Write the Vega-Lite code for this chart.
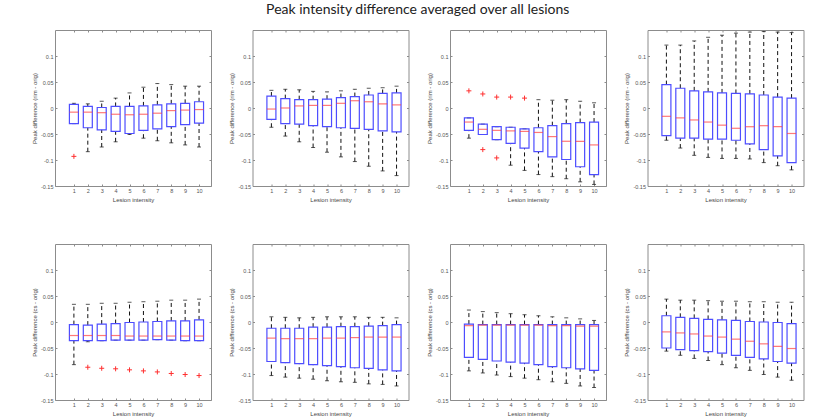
{
  "$schema": "https://vega.github.io/schema/vega-lite/v6.json",
  "title": {
    "text": "Peak intensity difference averaged over all lesions",
    "font": "Lato",
    "fontSize": 14,
    "fontWeight": "normal",
    "color": "#222222",
    "anchor": "middle",
    "offset": 12
  },
  "padding": {"left": 30, "top": 3, "right": 0, "bottom": 5},
  "background": "white",
  "datasets": {
    "stats": [
      {"r": "rim", "c": 1, "x": 1, "lo": -0.030, "q1": -0.030, "m": -0.008, "q3": 0.007, "hi": 0.009},
      {"r": "rim", "c": 1, "x": 2, "lo": -0.084, "q1": -0.038, "m": -0.008, "q3": 0.003, "hi": 0.008},
      {"r": "rim", "c": 1, "x": 3, "lo": -0.075, "q1": -0.042, "m": -0.009, "q3": 0.001, "hi": 0.013},
      {"r": "rim", "c": 1, "x": 4, "lo": -0.065, "q1": -0.045, "m": -0.012, "q3": 0.003, "hi": 0.019},
      {"r": "rim", "c": 1, "x": 5, "lo": -0.051, "q1": -0.049, "m": -0.013, "q3": 0.003, "hi": 0.029},
      {"r": "rim", "c": 1, "x": 6, "lo": -0.058, "q1": -0.043, "m": -0.012, "q3": 0.004, "hi": 0.040},
      {"r": "rim", "c": 1, "x": 7, "lo": -0.063, "q1": -0.040, "m": -0.010, "q3": 0.006, "hi": 0.047},
      {"r": "rim", "c": 1, "x": 8, "lo": -0.067, "q1": -0.036, "m": -0.005, "q3": 0.008, "hi": 0.045},
      {"r": "rim", "c": 1, "x": 9, "lo": -0.071, "q1": -0.032, "m": -0.004, "q3": 0.009, "hi": 0.042},
      {"r": "rim", "c": 1, "x": 10, "lo": -0.075, "q1": -0.029, "m": -0.003, "q3": 0.012, "hi": 0.042},
      {"r": "rim", "c": 1, "x": 1, "o": -0.093},

      {"r": "rim", "c": 2, "x": 1, "lo": -0.037, "q1": -0.022, "m": -0.002, "q3": 0.023, "hi": 0.034},
      {"r": "rim", "c": 2, "x": 2, "lo": -0.054, "q1": -0.030, "m": 0.000, "q3": 0.018, "hi": 0.036},
      {"r": "rim", "c": 2, "x": 3, "lo": -0.065, "q1": -0.031, "m": 0.004, "q3": 0.016, "hi": 0.035},
      {"r": "rim", "c": 2, "x": 4, "lo": -0.076, "q1": -0.034, "m": 0.005, "q3": 0.016, "hi": 0.032},
      {"r": "rim", "c": 2, "x": 5, "lo": -0.085, "q1": -0.036, "m": 0.005, "q3": 0.017, "hi": 0.031},
      {"r": "rim", "c": 2, "x": 6, "lo": -0.094, "q1": -0.038, "m": 0.009, "q3": 0.020, "hi": 0.033},
      {"r": "rim", "c": 2, "x": 7, "lo": -0.103, "q1": -0.039, "m": 0.014, "q3": 0.022, "hi": 0.036},
      {"r": "rim", "c": 2, "x": 8, "lo": -0.112, "q1": -0.041, "m": 0.012, "q3": 0.025, "hi": 0.038},
      {"r": "rim", "c": 2, "x": 9, "lo": -0.121, "q1": -0.044, "m": 0.008, "q3": 0.028, "hi": 0.039},
      {"r": "rim", "c": 2, "x": 10, "lo": -0.130, "q1": -0.046, "m": 0.006, "q3": 0.029, "hi": 0.042},

      {"r": "rim", "c": 3, "x": 1, "lo": -0.058, "q1": -0.043, "m": -0.027, "q3": -0.019, "hi": -0.019},
      {"r": "rim", "c": 3, "x": 2, "lo": -0.051, "q1": -0.051, "m": -0.041, "q3": -0.031, "hi": -0.031},
      {"r": "rim", "c": 3, "x": 3, "lo": -0.061, "q1": -0.061, "m": -0.043, "q3": -0.036, "hi": -0.036},
      {"r": "rim", "c": 3, "x": 4, "lo": -0.110, "q1": -0.068, "m": -0.044, "q3": -0.037, "hi": -0.037},
      {"r": "rim", "c": 3, "x": 5, "lo": -0.120, "q1": -0.077, "m": -0.045, "q3": -0.040, "hi": -0.040},
      {"r": "rim", "c": 3, "x": 6, "lo": -0.128, "q1": -0.084, "m": -0.047, "q3": -0.038, "hi": 0.016},
      {"r": "rim", "c": 3, "x": 7, "lo": -0.132, "q1": -0.094, "m": -0.055, "q3": -0.034, "hi": 0.015},
      {"r": "rim", "c": 3, "x": 8, "lo": -0.136, "q1": -0.099, "m": -0.064, "q3": -0.030, "hi": 0.016},
      {"r": "rim", "c": 3, "x": 9, "lo": -0.142, "q1": -0.113, "m": -0.064, "q3": -0.028, "hi": 0.013},
      {"r": "rim", "c": 3, "x": 10, "lo": -0.147, "q1": -0.128, "m": -0.071, "q3": -0.027, "hi": 0.010},
      {"r": "rim", "c": 3, "x": 1, "o": 0.033},
      {"r": "rim", "c": 3, "x": 2, "o": 0.027},
      {"r": "rim", "c": 3, "x": 2, "o": -0.080},
      {"r": "rim", "c": 3, "x": 3, "o": 0.021},
      {"r": "rim", "c": 3, "x": 3, "o": -0.096},
      {"r": "rim", "c": 3, "x": 4, "o": 0.021},
      {"r": "rim", "c": 3, "x": 5, "o": 0.019},

      {"r": "rim", "c": 4, "x": 1, "lo": -0.062, "q1": -0.053, "m": -0.016, "q3": 0.045, "hi": 0.121},
      {"r": "rim", "c": 4, "x": 2, "lo": -0.077, "q1": -0.058, "m": -0.019, "q3": 0.038, "hi": 0.121},
      {"r": "rim", "c": 4, "x": 3, "lo": -0.091, "q1": -0.058, "m": -0.023, "q3": 0.033, "hi": 0.129},
      {"r": "rim", "c": 4, "x": 4, "lo": -0.095, "q1": -0.060, "m": -0.027, "q3": 0.031, "hi": 0.136},
      {"r": "rim", "c": 4, "x": 5, "lo": -0.097, "q1": -0.060, "m": -0.033, "q3": 0.029, "hi": 0.140},
      {"r": "rim", "c": 4, "x": 6, "lo": -0.097, "q1": -0.062, "m": -0.039, "q3": 0.028, "hi": 0.144},
      {"r": "rim", "c": 4, "x": 7, "lo": -0.098, "q1": -0.069, "m": -0.036, "q3": 0.027, "hi": 0.146},
      {"r": "rim", "c": 4, "x": 8, "lo": -0.105, "q1": -0.080, "m": -0.034, "q3": 0.025, "hi": 0.147},
      {"r": "rim", "c": 4, "x": 9, "lo": -0.111, "q1": -0.092, "m": -0.036, "q3": 0.021, "hi": 0.146},
      {"r": "rim", "c": 4, "x": 10, "lo": -0.119, "q1": -0.105, "m": -0.049, "q3": 0.019, "hi": 0.145},

      {"r": "cs", "c": 1, "x": 1, "lo": -0.082, "q1": -0.036, "m": -0.026, "q3": -0.005, "hi": 0.034},
      {"r": "cs", "c": 1, "x": 2, "lo": -0.038, "q1": -0.036, "m": -0.026, "q3": -0.006, "hi": 0.034},
      {"r": "cs", "c": 1, "x": 3, "lo": -0.036, "q1": -0.036, "m": -0.026, "q3": -0.004, "hi": 0.036},
      {"r": "cs", "c": 1, "x": 4, "lo": -0.035, "q1": -0.035, "m": -0.026, "q3": -0.003, "hi": 0.036},
      {"r": "cs", "c": 1, "x": 5, "lo": -0.035, "q1": -0.035, "m": -0.027, "q3": -0.001, "hi": 0.038},
      {"r": "cs", "c": 1, "x": 6, "lo": -0.035, "q1": -0.035, "m": -0.027, "q3": 0.000, "hi": 0.039},
      {"r": "cs", "c": 1, "x": 7, "lo": -0.034, "q1": -0.034, "m": -0.027, "q3": 0.001, "hi": 0.040},
      {"r": "cs", "c": 1, "x": 8, "lo": -0.035, "q1": -0.035, "m": -0.027, "q3": 0.002, "hi": 0.042},
      {"r": "cs", "c": 1, "x": 9, "lo": -0.036, "q1": -0.036, "m": -0.027, "q3": 0.002, "hi": 0.042},
      {"r": "cs", "c": 1, "x": 10, "lo": -0.036, "q1": -0.036, "m": -0.027, "q3": 0.004, "hi": 0.044},
      {"r": "cs", "c": 1, "x": 2, "o": -0.087},
      {"r": "cs", "c": 1, "x": 3, "o": -0.089},
      {"r": "cs", "c": 1, "x": 4, "o": -0.090},
      {"r": "cs", "c": 1, "x": 5, "o": -0.092},
      {"r": "cs", "c": 1, "x": 6, "o": -0.094},
      {"r": "cs", "c": 1, "x": 7, "o": -0.096},
      {"r": "cs", "c": 1, "x": 8, "o": -0.099},
      {"r": "cs", "c": 1, "x": 9, "o": -0.101},
      {"r": "cs", "c": 1, "x": 10, "o": -0.103},

      {"r": "cs", "c": 2, "x": 1, "lo": -0.103, "q1": -0.076, "m": -0.031, "q3": -0.012, "hi": 0.010},
      {"r": "cs", "c": 2, "x": 2, "lo": -0.106, "q1": -0.078, "m": -0.032, "q3": -0.012, "hi": 0.009},
      {"r": "cs", "c": 2, "x": 3, "lo": -0.108, "q1": -0.080, "m": -0.032, "q3": -0.012, "hi": 0.008},
      {"r": "cs", "c": 2, "x": 4, "lo": -0.110, "q1": -0.082, "m": -0.032, "q3": -0.010, "hi": 0.009},
      {"r": "cs", "c": 2, "x": 5, "lo": -0.113, "q1": -0.084, "m": -0.031, "q3": -0.010, "hi": 0.010},
      {"r": "cs", "c": 2, "x": 6, "lo": -0.115, "q1": -0.086, "m": -0.031, "q3": -0.009, "hi": 0.010},
      {"r": "cs", "c": 2, "x": 7, "lo": -0.116, "q1": -0.088, "m": -0.030, "q3": -0.009, "hi": 0.010},
      {"r": "cs", "c": 2, "x": 8, "lo": -0.119, "q1": -0.089, "m": -0.029, "q3": -0.008, "hi": 0.009},
      {"r": "cs", "c": 2, "x": 9, "lo": -0.120, "q1": -0.092, "m": -0.029, "q3": -0.007, "hi": 0.009},
      {"r": "cs", "c": 2, "x": 10, "lo": -0.123, "q1": -0.094, "m": -0.029, "q3": -0.005, "hi": 0.008},

      {"r": "cs", "c": 3, "x": 1, "lo": -0.094, "q1": -0.068, "m": -0.007, "q3": -0.004, "hi": 0.023},
      {"r": "cs", "c": 3, "x": 2, "lo": -0.098, "q1": -0.072, "m": -0.006, "q3": -0.005, "hi": 0.020},
      {"r": "cs", "c": 3, "x": 3, "lo": -0.102, "q1": -0.075, "m": -0.006, "q3": -0.005, "hi": 0.018},
      {"r": "cs", "c": 3, "x": 4, "lo": -0.105, "q1": -0.077, "m": -0.006, "q3": -0.005, "hi": 0.016},
      {"r": "cs", "c": 3, "x": 5, "lo": -0.108, "q1": -0.079, "m": -0.006, "q3": -0.005, "hi": 0.014},
      {"r": "cs", "c": 3, "x": 6, "lo": -0.111, "q1": -0.082, "m": -0.006, "q3": -0.005, "hi": 0.012},
      {"r": "cs", "c": 3, "x": 7, "lo": -0.115, "q1": -0.086, "m": -0.007, "q3": -0.005, "hi": 0.010},
      {"r": "cs", "c": 3, "x": 8, "lo": -0.118, "q1": -0.088, "m": -0.007, "q3": -0.005, "hi": 0.008},
      {"r": "cs", "c": 3, "x": 9, "lo": -0.123, "q1": -0.090, "m": -0.008, "q3": -0.005, "hi": 0.006},
      {"r": "cs", "c": 3, "x": 10, "lo": -0.126, "q1": -0.093, "m": -0.008, "q3": -0.005, "hi": 0.003},

      {"r": "cs", "c": 4, "x": 1, "lo": -0.056, "q1": -0.050, "m": -0.019, "q3": 0.012, "hi": 0.044},
      {"r": "cs", "c": 4, "x": 2, "lo": -0.064, "q1": -0.053, "m": -0.021, "q3": 0.009, "hi": 0.042},
      {"r": "cs", "c": 4, "x": 3, "lo": -0.070, "q1": -0.055, "m": -0.023, "q3": 0.007, "hi": 0.042},
      {"r": "cs", "c": 4, "x": 4, "lo": -0.074, "q1": -0.057, "m": -0.027, "q3": 0.005, "hi": 0.041},
      {"r": "cs", "c": 4, "x": 5, "lo": -0.082, "q1": -0.060, "m": -0.029, "q3": 0.004, "hi": 0.040},
      {"r": "cs", "c": 4, "x": 6, "lo": -0.088, "q1": -0.064, "m": -0.033, "q3": 0.003, "hi": 0.040},
      {"r": "cs", "c": 4, "x": 7, "lo": -0.093, "q1": -0.068, "m": -0.037, "q3": 0.001, "hi": 0.039},
      {"r": "cs", "c": 4, "x": 8, "lo": -0.101, "q1": -0.071, "m": -0.042, "q3": 0.000, "hi": 0.039},
      {"r": "cs", "c": 4, "x": 9, "lo": -0.106, "q1": -0.076, "m": -0.047, "q3": -0.001, "hi": 0.038},
      {"r": "cs", "c": 4, "x": 10, "lo": -0.112, "q1": -0.079, "m": -0.051, "q3": -0.003, "hi": 0.038}
    ]
  },
  "vconcat": [
    {
      "data": {"name": "stats"},
      "transform": [{"filter": "datum.r == 'rim'"}],
      "facet": {"column": {"field": "c", "type": "ordinal", "header": null}},
      "spacing": 41.5,
      "bounds": "flush",
      "resolve": {"axis": {"x": "independent", "y": "independent"}},
      "spec": {
        "width": 156,
        "height": 156,
        "resolve": {"axis": {"x": "independent", "y": "independent"}},
        "layer": [
          {
            "transform": [{"filter": "isValid(datum.m)"}],
            "mark": {"type": "rule", "color": "#111111", "strokeDash": [4, 3], "strokeWidth": 1},
            "encoding": {
              "x": {"field": "x", "type": "quantitative", "scale": {"domain": [0, 10.5], "nice": false, "zero": false}, "title": "Lesion intensity", "axis": {"values": [1, 2, 3, 4, 5, 6, 7, 8, 9, 10], "format": "d"}},
              "y": {"field": "q3", "type": "quantitative", "scale": {"domain": [-0.15, 0.15], "nice": false, "zero": false}, "title": "Peak difference (rim - orig)", "axis": {"values": [-0.15, -0.1, -0.05, 0, 0.05, 0.1], "labelExpr": "toString(datum.value)"}},
              "y2": {"field": "hi"}
            }
          },
          {
            "transform": [{"filter": "isValid(datum.m)"}],
            "mark": {"type": "rule", "color": "#111111", "strokeDash": [4, 3], "strokeWidth": 1},
            "encoding": {
              "x": {"field": "x", "type": "quantitative", "axis": null},
              "y": {"field": "lo", "type": "quantitative", "axis": null},
              "y2": {"field": "q1"}
            }
          },
          {
            "transform": [{"filter": "isValid(datum.m)"}],
            "mark": {"type": "tick", "orient": "horizontal", "color": "#111111", "size": 4, "thickness": 1},
            "encoding": {
              "x": {"field": "x", "type": "quantitative", "axis": null},
              "y": {"field": "hi", "type": "quantitative", "axis": null}
            }
          },
          {
            "transform": [{"filter": "isValid(datum.m)"}],
            "mark": {"type": "tick", "orient": "horizontal", "color": "#111111", "size": 4, "thickness": 1},
            "encoding": {
              "x": {"field": "x", "type": "quantitative", "axis": null},
              "y": {"field": "lo", "type": "quantitative", "axis": null}
            }
          },
          {
            "transform": [{"filter": "isValid(datum.m)"}],
            "mark": {"type": "bar", "width": 9, "fill": "white", "fillOpacity": 0, "stroke": "#4d4dff", "strokeWidth": 1.2},
            "encoding": {
              "x": {"field": "x", "type": "quantitative", "axis": null},
              "y": {"field": "q1", "type": "quantitative", "axis": null},
              "y2": {"field": "q3"}
            }
          },
          {
            "transform": [{"filter": "isValid(datum.m)"}],
            "mark": {"type": "tick", "orient": "horizontal", "color": "#ff4040", "size": 9, "thickness": 1.2},
            "encoding": {
              "x": {"field": "x", "type": "quantitative", "axis": {"orient": "top", "values": [1, 2, 3, 4, 5, 6, 7, 8, 9, 10], "labels": false, "title": null}},
              "y": {"field": "m", "type": "quantitative", "axis": {"orient": "right", "values": [-0.15, -0.1, -0.05, 0, 0.05, 0.1], "labels": false, "title": null}}
            }
          },
          {
            "transform": [{"filter": "isValid(datum.o)"}],
            "mark": {"type": "point", "shape": "M-1,0H1M0,-1V1", "filled": false, "stroke": "#ff3030", "strokeWidth": 1, "size": 25, "opacity": 1},
            "encoding": {
              "x": {"field": "x", "type": "quantitative", "axis": null},
              "y": {"field": "o", "type": "quantitative", "axis": null}
            }
          }
        ]
      }
    },
    {
      "data": {"name": "stats"},
      "transform": [{"filter": "datum.r == 'cs'"}],
      "facet": {"column": {"field": "c", "type": "ordinal", "header": null}},
      "spacing": 41.5,
      "bounds": "flush",
      "resolve": {"axis": {"x": "independent", "y": "independent"}},
      "spec": {
        "width": 156,
        "height": 156,
        "resolve": {"axis": {"x": "independent", "y": "independent"}},
        "layer": [
          {
            "transform": [{"filter": "isValid(datum.m)"}],
            "mark": {"type": "rule", "color": "#111111", "strokeDash": [4, 3], "strokeWidth": 1},
            "encoding": {
              "x": {"field": "x", "type": "quantitative", "scale": {"domain": [0, 10.5], "nice": false, "zero": false}, "title": "Lesion intensity", "axis": {"values": [1, 2, 3, 4, 5, 6, 7, 8, 9, 10], "format": "d"}},
              "y": {"field": "q3", "type": "quantitative", "scale": {"domain": [-0.15, 0.15], "nice": false, "zero": false}, "title": "Peak difference (cs - orig)", "axis": {"values": [-0.15, -0.1, -0.05, 0, 0.05, 0.1], "labelExpr": "toString(datum.value)"}},
              "y2": {"field": "hi"}
            }
          },
          {
            "transform": [{"filter": "isValid(datum.m)"}],
            "mark": {"type": "rule", "color": "#111111", "strokeDash": [4, 3], "strokeWidth": 1},
            "encoding": {
              "x": {"field": "x", "type": "quantitative", "axis": null},
              "y": {"field": "lo", "type": "quantitative", "axis": null},
              "y2": {"field": "q1"}
            }
          },
          {
            "transform": [{"filter": "isValid(datum.m)"}],
            "mark": {"type": "tick", "orient": "horizontal", "color": "#111111", "size": 4, "thickness": 1},
            "encoding": {
              "x": {"field": "x", "type": "quantitative", "axis": null},
              "y": {"field": "hi", "type": "quantitative", "axis": null}
            }
          },
          {
            "transform": [{"filter": "isValid(datum.m)"}],
            "mark": {"type": "tick", "orient": "horizontal", "color": "#111111", "size": 4, "thickness": 1},
            "encoding": {
              "x": {"field": "x", "type": "quantitative", "axis": null},
              "y": {"field": "lo", "type": "quantitative", "axis": null}
            }
          },
          {
            "transform": [{"filter": "isValid(datum.m)"}],
            "mark": {"type": "bar", "width": 9, "fill": "white", "fillOpacity": 0, "stroke": "#4d4dff", "strokeWidth": 1.2},
            "encoding": {
              "x": {"field": "x", "type": "quantitative", "axis": null},
              "y": {"field": "q1", "type": "quantitative", "axis": null},
              "y2": {"field": "q3"}
            }
          },
          {
            "transform": [{"filter": "isValid(datum.m)"}],
            "mark": {"type": "tick", "orient": "horizontal", "color": "#ff4040", "size": 9, "thickness": 1.2},
            "encoding": {
              "x": {"field": "x", "type": "quantitative", "axis": {"orient": "top", "values": [1, 2, 3, 4, 5, 6, 7, 8, 9, 10], "labels": false, "title": null}},
              "y": {"field": "m", "type": "quantitative", "axis": {"orient": "right", "values": [-0.15, -0.1, -0.05, 0, 0.05, 0.1], "labels": false, "title": null}}
            }
          },
          {
            "transform": [{"filter": "isValid(datum.o)"}],
            "mark": {"type": "point", "shape": "M-1,0H1M0,-1V1", "filled": false, "stroke": "#ff3030", "strokeWidth": 1, "size": 25, "opacity": 1},
            "encoding": {
              "x": {"field": "x", "type": "quantitative", "axis": null},
              "y": {"field": "o", "type": "quantitative", "axis": null}
            }
          }
        ]
      }
    }
  ],
  "spacing": 40,
  "config": {
    "view": {"stroke": "#8c8c8c", "strokeWidth": 1},
    "font": "Liberation Sans",
    "axis": {
      "grid": false,
      "domain": false,
      "tickColor": "#8c8c8c",
      "tickSize": -2,
      "labelFont": "Liberation Sans",
      "labelFontSize": 5.5,
      "labelColor": "#555555",
      "labelPadding": 4,
      "titleFont": "Liberation Sans",
      "titleFontSize": 6,
      "titleFontWeight": "normal",
      "titleColor": "#444444",
      "titlePadding": 3
    }
  }
}
